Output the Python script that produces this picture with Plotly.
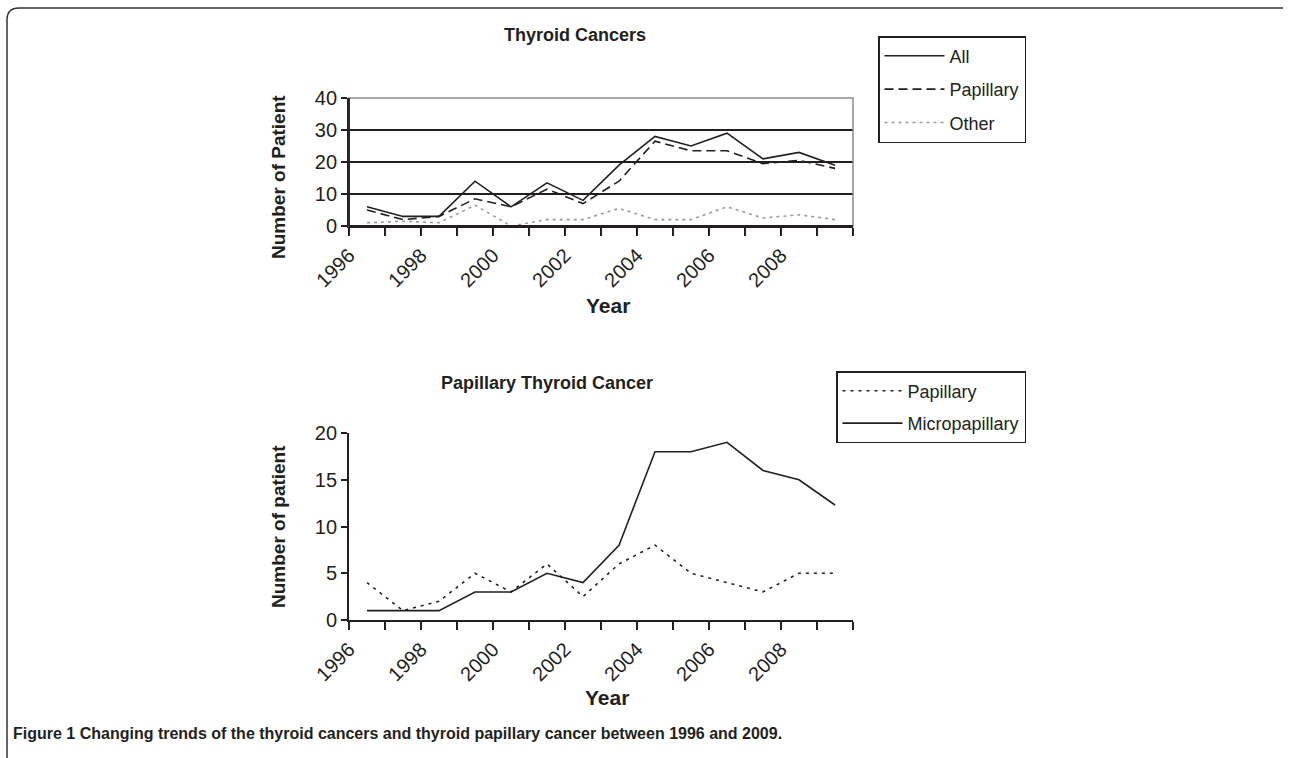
import plotly.graph_objects as go

# ---------------- data ----------------
years = list(range(1996, 2010))
all_cancers = [6, 3, 3, 14, 6, 13.5, 8, 19, 28, 25, 29, 21, 23, 19]
papillary_all = [5, 2, 3, 8.5, 6, 11.5, 7, 14, 26.5, 23.5, 23.5, 19.5, 20.5, 18]
other = [1, 1.5, 1, 6.5, 0, 2, 2, 5.5, 2, 2, 6, 2.5, 3.5, 2]

papillary = [4, 1, 2, 5, 3, 6, 2.5, 6, 8, 5, 4, 3, 5, 5]
micropapillary = [1, 1, 1, 3, 3, 5, 4, 8, 18, 18, 19, 16, 15, 12.3]

tick_years = list(range(1996, 2011))
tick_labels = [str(y) if (y % 2 == 0 and y <= 2008) else "" for y in tick_years]

# ---------------- layout helpers ----------------
W, H = 1289, 758
def px(x):
    return x / W
def py(y):
    return 1 - y / H

FONT = "Liberation Sans, Arial, sans-serif"
INK = "#231f20"

# mid-year positions on a continuous year axis
xpos = [y + 0.5 for y in years]

fig = go.Figure()

fig.add_trace(go.Scatter(x=xpos, y=all_cancers, name="All", mode="lines",
                         line=dict(color=INK, width=1.6),
                         xaxis="x", yaxis="y", legend="legend", legendgroup="a"))
fig.add_trace(go.Scatter(x=xpos, y=papillary_all, name="Papillary", mode="lines",
                         line=dict(color=INK, width=1.6, dash="9px,5px"),
                         xaxis="x", yaxis="y", legend="legend", legendgroup="b"))
fig.add_trace(go.Scatter(x=xpos, y=other, name="Other", mode="lines",
                         line=dict(color="#9a9a9a", width=1.6, dash="3px,4px"),
                         xaxis="x", yaxis="y", legend="legend", legendgroup="c"))

fig.add_trace(go.Scatter(x=xpos, y=papillary, name="Papillary", mode="lines",
                         line=dict(color=INK, width=1.6, dash="3px,5px"),
                         xaxis="x2", yaxis="y2", legend="legend2", legendgroup="d"))
fig.add_trace(go.Scatter(x=xpos, y=micropapillary, name="Micropapillary", mode="lines",
                         line=dict(color=INK, width=1.6),
                         xaxis="x2", yaxis="y2", legend="legend2", legendgroup="e"))

tickfont = dict(family=FONT, size=20, color=INK)

xcommon = dict(range=[1996, 2010], tickmode="array", tickvals=tick_years,
               ticktext=tick_labels, tickangle=-45, ticks="outside", ticklen=8,
               tickwidth=1.5, tickcolor=INK, showline=True, linecolor=INK,
               linewidth=1.8, showgrid=False, zeroline=False, tickfont=tickfont,
               automargin=False)

fig.update_layout(
    template="none",
    width=W, height=H,
    margin=dict(l=0, r=0, t=0, b=0, pad=0, autoexpand=False),
    paper_bgcolor="white", plot_bgcolor="white",
    showlegend=True,
    xaxis=dict(domain=[px(349), px(853)], anchor="y", **xcommon),
    yaxis=dict(domain=[py(226), py(98)], anchor="x", range=[0, 40], dtick=10,
               tick0=0, ticks="outside", ticklen=6, tickwidth=1.5, tickcolor=INK,
               showline=True, linecolor=INK, linewidth=1.8, showgrid=True,
               gridcolor=INK, gridwidth=1.5, zeroline=False, tickfont=tickfont,
               automargin=False),
    xaxis2=dict(domain=[px(349), px(853)], anchor="y2", **xcommon),
    yaxis2=dict(domain=[py(620), py(433)], anchor="x2", range=[0, 20], dtick=5,
                tick0=0, ticks="outside", ticklen=6, tickwidth=1.5, tickcolor=INK,
                showline=True, linecolor=INK, linewidth=1.8, showgrid=False,
                zeroline=False, tickfont=tickfont, automargin=False),
    legend=dict(x=px(878), y=py(36), xanchor="left", yanchor="top",
                bordercolor=INK, borderwidth=1.5, bgcolor="white",
                font=dict(family=FONT, size=18, color=INK),
                traceorder="grouped", tracegroupgap=7, itemwidth=60),
    legend2=dict(x=px(836), y=py(371), xanchor="left", yanchor="top",
                 bordercolor=INK, borderwidth=1.5, bgcolor="white",
                 font=dict(family=FONT, size=18, color=INK),
                 traceorder="grouped", tracegroupgap=6, itemwidth=60),
)

# grey plot-area border of the top chart
fig.add_shape(type="rect", xref="x domain", yref="y domain", x0=0, x1=1, y0=0, y1=1,
              line=dict(color="#8c8c8c", width=1.5), layer="above")
# keep the black axis lines on top of the grey border
fig.add_shape(type="line", xref="x domain", yref="y domain", x0=0, x1=1, y0=0, y1=0,
              line=dict(color=INK, width=1.8), layer="above")
fig.add_shape(type="line", xref="x domain", yref="y domain", x0=0, x1=0, y0=0, y1=1,
              line=dict(color=INK, width=1.8), layer="above")

def label(text, x, y, size, angle=0):
    fig.add_annotation(text=f"<b>{text}</b>", x=px(x), y=py(y), xref="paper",
                       yref="paper", xanchor="center", yanchor="middle",
                       textangle=angle, showarrow=False,
                       font=dict(family=FONT, size=size, color=INK))

# chart titles
label("Thyroid Cancers", 575, 35, 18)
label("Papillary Thyroid Cancer", 547, 383, 18)
# axis titles
label("Number of Patient", 278, 177, 19, -90)
label("Year", 608, 305, 21)
label("Number of patient", 278, 527, 19, -90)
label("Year", 607, 697, 21)

# figure frame (left and top with rounded corner)
r = 12
path = (f"M {px(7)},{py(758)} L {px(7)},{py(8 + r)} "
        f"Q {px(7)},{py(8)} {px(7 + r)},{py(8)} L {px(1283)},{py(8)}")
fig.add_shape(type="path", xref="paper", yref="paper", path=path,
              line=dict(color="#333333", width=1.5))

# caption
fig.add_annotation(
    text="<b>Figure 1 Changing trends of the thyroid cancers and thyroid papillary cancer between 1996 and 2009.</b>",
    x=px(11), y=py(733), xref="paper", yref="paper", xanchor="left", yanchor="middle",
    showarrow=False, font=dict(family=FONT, size=16, color=INK))

fig.write_html("out.html", config={"displayModeBar": False},
               post_script="document.body.style.margin='0';")
